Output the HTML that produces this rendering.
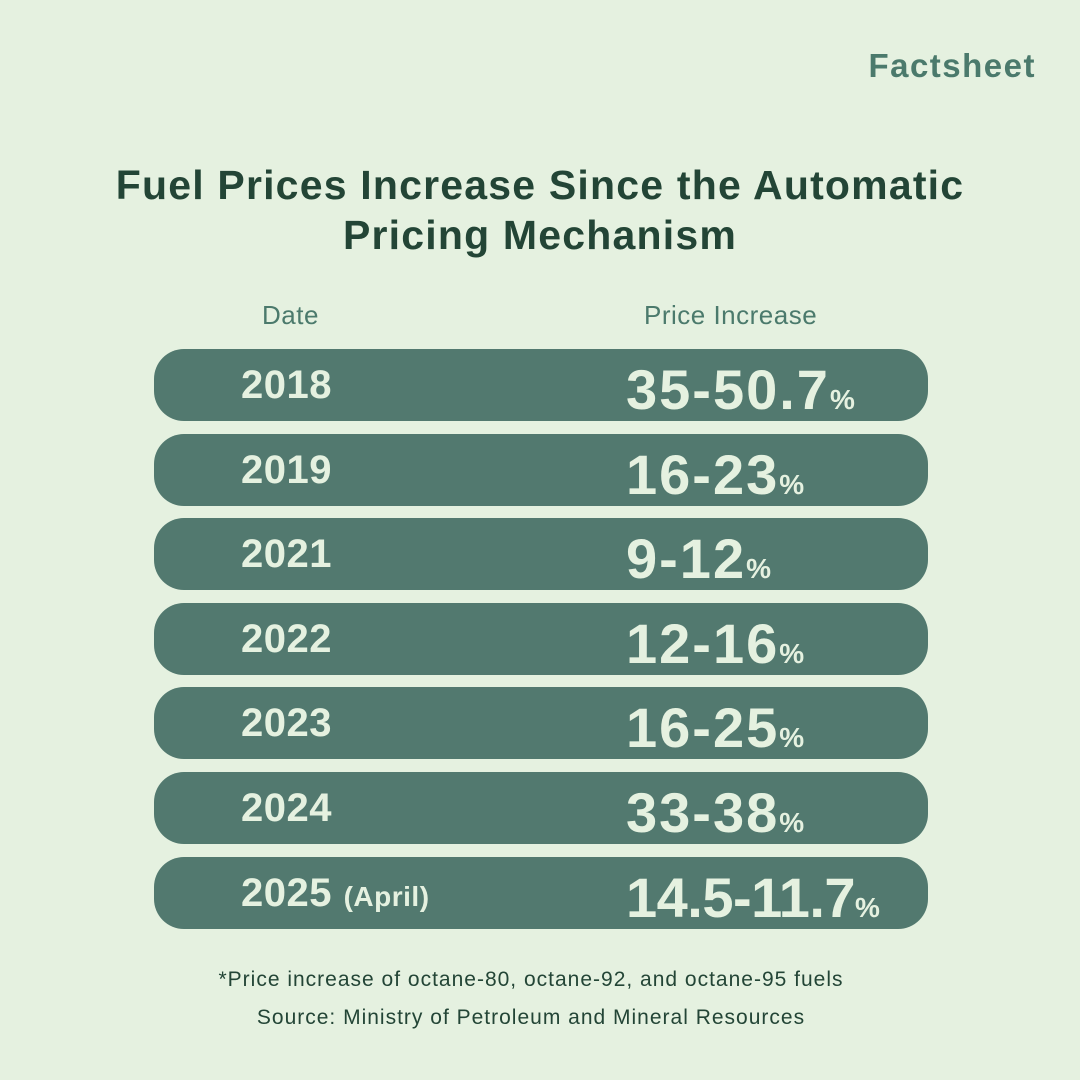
<!DOCTYPE html>
<html><head><style>
body{margin:0;width:1080px;height:1080px;background:#e5f1e0;font-family:"Liberation Sans",sans-serif;position:relative;overflow:hidden}
.a{position:absolute;white-space:nowrap}
.fs{right:44px;top:47px;font-size:33px;letter-spacing:1.5px;font-weight:bold;color:#4b7a6c}
.t{left:0;width:1080px;text-align:center;font-size:41px;letter-spacing:1.2px;font-weight:bold;color:#234536;line-height:50px;top:160px}
.h{font-size:26px;letter-spacing:0.5px;color:#4b7a6c;top:300px}
.row{position:absolute;left:154px;width:774px;height:72px;border-radius:30px;background:#52796f;color:#e5f1e0;font-weight:bold}
.y{position:absolute;left:87px;top:14px;font-size:40px;letter-spacing:0.5px}
.y small{font-size:28px}
.v{position:absolute;left:472px;top:8px;font-size:56px;letter-spacing:2px}
.v span{font-size:28px;letter-spacing:0}
.f{left:0;width:1062px;text-align:center;font-size:21px;letter-spacing:1px;color:#234536}
</style></head><body>
<div class="a fs">Factsheet</div>
<div class="a t">Fuel Prices Increase Since the Automatic<br>Pricing Mechanism</div>
<div class="a h" style="left:262px">Date</div>
<div class="a h" style="left:644px">Price Increase</div>
<div class="row" style="top:349px"><div class="y">2018</div><div class="v">35-50.7<span>%</span></div></div>
<div class="row" style="top:434px"><div class="y">2019</div><div class="v">16-23<span>%</span></div></div>
<div class="row" style="top:518px"><div class="y">2021</div><div class="v">9-12<span>%</span></div></div>
<div class="row" style="top:603px"><div class="y">2022</div><div class="v">12-16<span>%</span></div></div>
<div class="row" style="top:687px"><div class="y">2023</div><div class="v">16-25<span>%</span></div></div>
<div class="row" style="top:772px"><div class="y">2024</div><div class="v">33-38<span>%</span></div></div>
<div class="row" style="top:857px"><div class="y">2025 <small>(April)</small></div><div class="v" style="letter-spacing:-0.5px">14.5-11.7<span>%</span></div></div>
<div class="a f" style="top:968px">*Price increase of octane-80, octane-92, and octane-95 fuels</div>
<div class="a f" style="top:1006px">Source: Ministry of Petroleum and Mineral Resources</div>
</body></html>
